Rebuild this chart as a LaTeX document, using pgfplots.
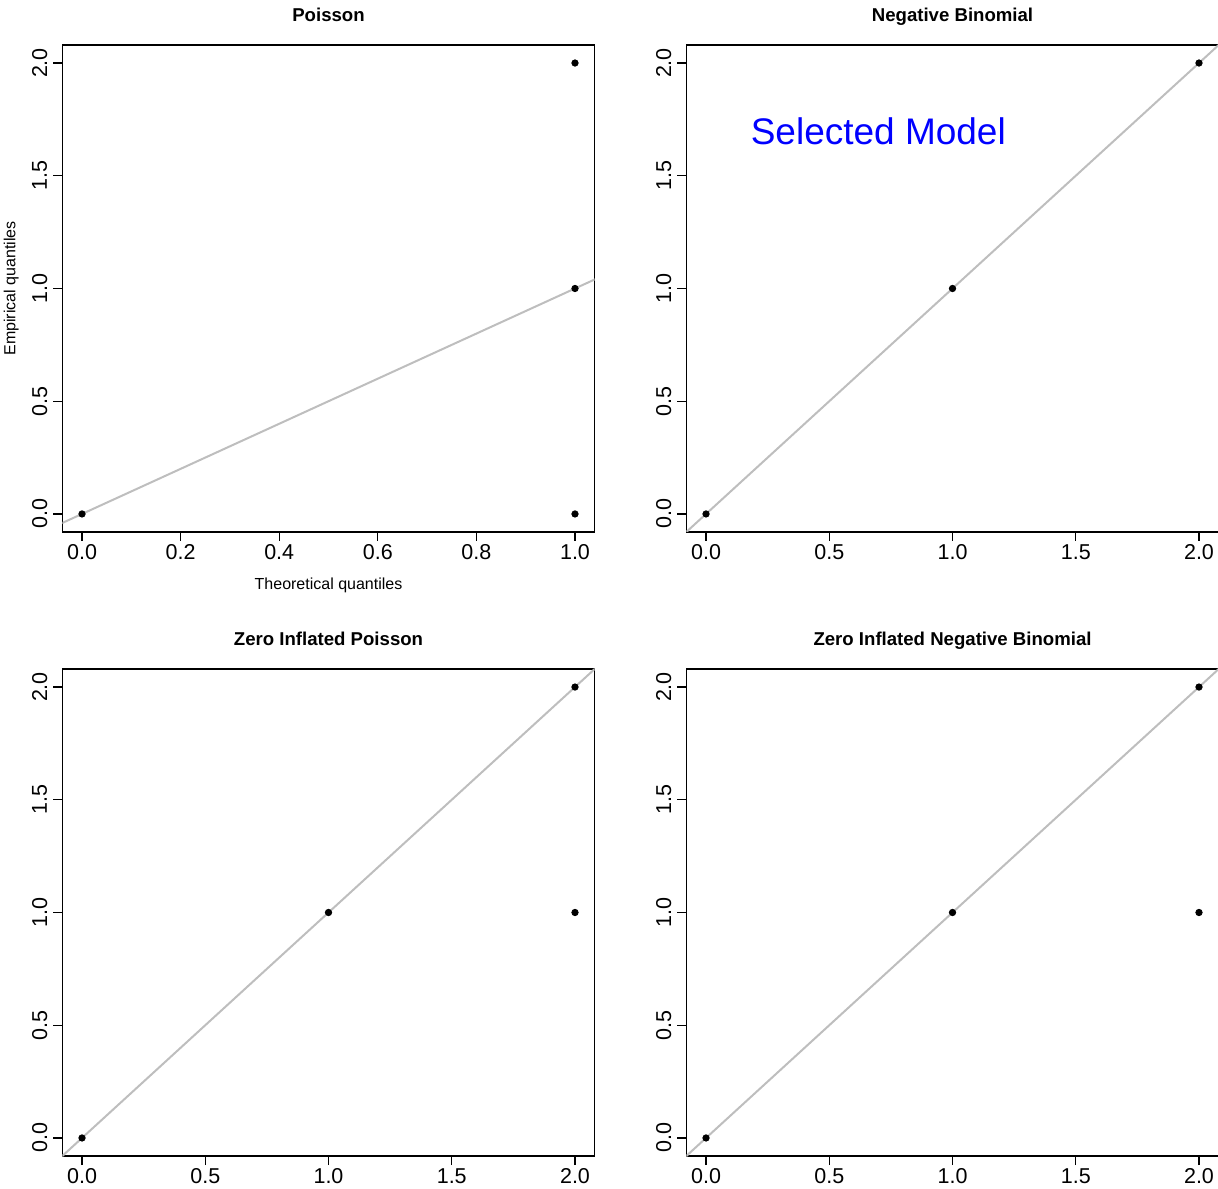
\documentclass[border=0pt]{standalone}
\usepackage{fontspec}
\setmainfont{Liberation Sans}
\usepackage{pgfplots}
\pgfplotsset{compat=1.18}
\definecolor{qqgray}{RGB}{190,190,190}
\pgfplotsset{
  rstyle/.style={
    scale only axis, width=266.2pt, height=243.5pt,
    anchor=south west,
    axis line style={black, line width=0.6pt},
    tick align=outside, major tick length=4.5pt,
    tick style={black, line width=0.6pt},
    xtick pos=bottom, ytick pos=left,
    /pgf/number format/assume math mode=true,
    /pgf/number format/fixed, /pgf/number format/fixed zerofill,
    /pgf/number format/precision=1,
    ymin=-0.08, ymax=2.08, ytick={0,0.5,1,1.5,2},
    ticklabel style={font=\fontsize{10.75}{12}\selectfont},
    xticklabel style={anchor=center, yshift=-5.5pt},
    yticklabel style={xshift=-6.8pt, rotate=90, anchor=center},
    title style={font=\bfseries\fontsize{9.3}{11}\selectfont, at={(axis description cs:0.5,1.0232)}, anchor=base, yshift=0pt},
    label style={font=\fontsize{8}{10}\selectfont},
    xlabel style={at={(axis description cs:0.5,-0.109)}, anchor=center},
    ylabel style={at={(axis description cs:-0.0958,0.5)}, anchor=center},
  },
  rwide/.style={xmin=-0.08, xmax=2.08, xtick={0,0.5,1,1.5,2}},
  qqline/.style={qqgray, line width=1pt, no marks},
  qqpts/.style={only marks, mark=*, mark size=1.6pt, black},
}
\begin{document}
\begin{tikzpicture}
\useasboundingbox (0,0) rectangle (609pt,594pt);
% Poisson
\begin{axis}[rstyle, at={(31.15pt,328pt)}, xmin=-0.04, xmax=1.04,
  xtick={0,0.2,0.4,0.6,0.8,1}, title={Poisson},
  xlabel={Theoretical quantiles}, ylabel={Empirical quantiles}]
\addplot[qqpts] coordinates {(0,0) (1,0) (1,1) (1,2)};
\addplot[qqline] coordinates {(-1,-1) (3,3)};
\end{axis}
% Negative Binomial
\begin{axis}[rstyle, rwide, at={(343.15pt,328pt)}, title={Negative Binomial}]
\addplot[qqpts] coordinates {(0,0) (1,1) (2,2)};
\addplot[qqline] coordinates {(-1,-1) (3,3)};
\node[text=blue, font=\fontsize{18.5}{22}\selectfont] at (axis cs:0.699,1.698) {Selected Model};
\end{axis}
% ZIP
\begin{axis}[rstyle, rwide, at={(31.15pt,16pt)}, title={Zero Inflated Poisson}]
\addplot[qqpts] coordinates {(0,0) (1,1) (2,2) (2,1)};
\addplot[qqline] coordinates {(-1,-1) (3,3)};
\end{axis}
% ZINB
\begin{axis}[rstyle, rwide, at={(343.15pt,16pt)}, title={Zero Inflated Negative Binomial}]
\addplot[qqpts] coordinates {(0,0) (1,1) (2,2) (2,1)};
\addplot[qqline] coordinates {(-1,-1) (3,3)};
\end{axis}
\end{tikzpicture}
\end{document}
